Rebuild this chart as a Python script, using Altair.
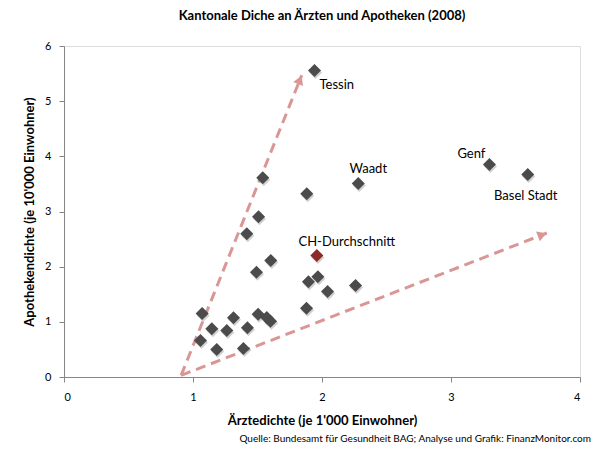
import altair as alt
import pandas as pd

# Canton data (Ärztedichte je 1'000, Apothekendichte je 10'000)
aerzte = [1.942, 2.281, 3.298, 3.595, 1.541, 1.882, 1.508, 1.417, 1.603, 1.492,
          1.968, 1.895, 2.043, 2.260, 1.880, 1.071, 1.146, 1.262, 1.314, 1.422,
          1.505, 1.572, 1.601, 1.058, 1.184, 1.391]
apotheken = [5.556, 3.507, 3.852, 3.670, 3.611, 3.321, 2.904, 2.595, 2.111, 1.900,
             1.816, 1.725, 1.550, 1.660, 1.247, 1.151, 0.874, 0.843, 1.073, 0.892,
             1.138, 1.078, 1.011, 0.662, 0.498, 0.517]
namen = ["Tessin", "Waadt", "Genf", "Basel Stadt"] + [""] * 22

ch_x = [1.960]
ch_y = [2.202]
ch_name = ["CH-Durchschnitt"]

# Arrows (start -> tip), data coordinates
arrow_x = [0.908, 0.908]
arrow_y = [0.03, 0.03]
arrow_x2 = [1.843, 3.743]
arrow_y2 = [5.47, 2.61]

x_ticks = [0, 1, 2, 3, 4]
y_ticks = [0, 1, 2, 3, 4, 5, 6]

FONT = "Lato"
ARROW = "#d99694"

df = pd.DataFrame({"x": aerzte, "y": apotheken, "name": namen})
ch = pd.DataFrame({"x": ch_x, "y": ch_y, "name": ch_name})
arr = pd.DataFrame({"x": arrow_x, "y": arrow_y, "x2": arrow_x2, "y2": arrow_y2})

xs = alt.Scale(domain=[0, 4], nice=False, zero=False)
ys = alt.Scale(domain=[0, 6], nice=False, zero=False)

xax = alt.Axis(values=x_ticks, format="d", grid=False, title="Ärztedichte (je 1'000 Einwohner)",
               titleFontSize=13, titleFontWeight="bold", titleFont=FONT, titleColor="#000",
               labelFont=FONT, labelFontSize=11, labelColor="#000", labelPadding=9,
               domainColor="#868686", tickColor="#868686", tickSize=5, titlePadding=12)
yax = alt.Axis(values=y_ticks, format="d", grid=False, title="Apothekendichte (je 10'000 Einwohner)",
               titleFontSize=13, titleFontWeight="bold", titleFont=FONT, titleColor="#000",
               labelFont=FONT, labelFontSize=11, labelColor="#000", labelPadding=8,
               domainColor="#868686", tickColor="#868686", tickSize=5, titlePadding=8)

lines = alt.Chart(arr).mark_rule(color=ARROW, strokeWidth=3, strokeDash=[10, 6]).encode(
    x=alt.X("x:Q", scale=xs, axis=xax), y=alt.Y("y:Q", scale=ys, axis=yax),
    x2="x2:Q", y2="y2:Q")

head1 = alt.Chart(arr.iloc[[0]]).mark_point(shape="triangle-up", filled=True, color=ARROW,
                                            opacity=1, size=110, angle=21.9,
                                            xOffset=-1.9, yOffset=4.6).encode(
    x=alt.X("x2:Q", scale=xs), y=alt.Y("y2:Q", scale=ys))
head2 = alt.Chart(arr.iloc[[1]]).mark_point(shape="triangle-up", filled=True, color=ARROW,
                                            opacity=1, size=110, angle=68.7,
                                            xOffset=-4.7, yOffset=1.8).encode(
    x=alt.X("x2:Q", scale=xs), y=alt.Y("y2:Q", scale=ys))

shadow = alt.Chart(df).mark_point(shape="diamond", filled=True, color="#9a9a9a", opacity=0.45,
                                  size=170, xOffset=1, yOffset=2).encode(
    x=alt.X("x:Q", scale=xs), y=alt.Y("y:Q", scale=ys))
pts = alt.Chart(df).mark_point(shape="diamond", filled=True, color="#4b4b4b", opacity=1,
                               size=170).encode(
    x=alt.X("x:Q", scale=xs), y=alt.Y("y:Q", scale=ys))
ch_shadow = alt.Chart(ch).mark_point(shape="diamond", filled=True, color="#9a9a9a", opacity=0.45,
                                     size=170, xOffset=1, yOffset=2).encode(
    x=alt.X("x:Q", scale=xs), y=alt.Y("y:Q", scale=ys))
ch_pt = alt.Chart(ch).mark_point(shape="diamond", filled=True, color="#8b2a26", opacity=1,
                                 size=170).encode(
    x=alt.X("x:Q", scale=xs), y=alt.Y("y:Q", scale=ys))

label_style = {
    "Tessin": dict(dx=5, dy=15, align="left"),
    "Waadt": dict(dx=10, dy=-15, align="center"),
    "Genf": dict(dx=-18, dy=-10, align="center"),
    "Basel Stadt": dict(dx=-2, dy=21, align="center"),
}
labels = []
for nm, st in label_style.items():
    labels.append(alt.Chart(df[df["name"] == nm]).mark_text(
        font=FONT, fontSize=13, color="#000", baseline="middle", **st).encode(
        x=alt.X("x:Q", scale=xs), y=alt.Y("y:Q", scale=ys), text="name:N"))
labels.append(alt.Chart(ch).mark_text(font=FONT, fontSize=13, color="#000", baseline="middle",
                                      dx=30, dy=-14, align="center").encode(
    x=alt.X("x:Q", scale=xs), y=alt.Y("y:Q", scale=ys), text="name:N"))

source = alt.Chart(pd.DataFrame({"t": ["Quelle: Bundesamt für Gesundheit BAG; Analyse und Grafik: FinanzMonitor.com"]})).mark_text(
    font=FONT, fontSize=10, color="#000", align="right", baseline="middle").encode(
    x=alt.value(527), y=alt.value(393), text="t:N")

chart = alt.layer(lines, head1, head2, shadow, pts, ch_shadow, ch_pt, *labels, source).properties(
    width=516, height=331,
    title=alt.TitleParams("Kantonale Diche an Ärzten und Apotheken (2008)", font=FONT,
                          fontSize=13, fontWeight="bold", color="#000", anchor="middle",
                          offset=17),
    autosize=alt.AutoSizeParams(type="none"),
    padding={"left": 64, "top": 46, "right": 20, "bottom": 75},
).configure_view(stroke=None).configure(background="white")

chart.save("out.html", embed_options={"renderer": "svg", "actions": False})
